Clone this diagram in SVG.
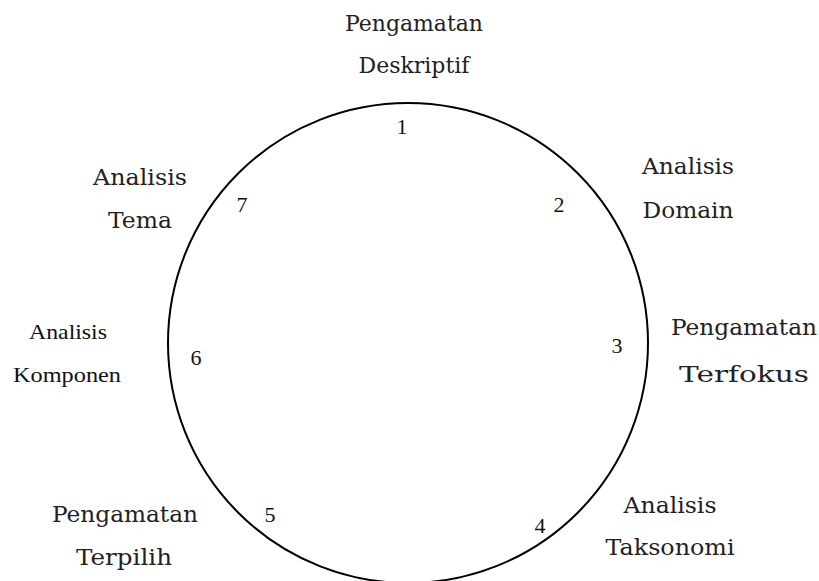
<svg xmlns="http://www.w3.org/2000/svg" width="819" height="581" viewBox="0 0 819 581">
<style>
.lb{font-family:"DejaVu Serif","Liberation Serif",serif;font-size:22.5px;fill:#222;text-anchor:middle}
.tm{font-family:"Liberation Serif",serif;font-size:21px;fill:#111;text-anchor:middle}
.num{font-family:"Liberation Serif",serif;font-size:22px;fill:#111;text-anchor:middle}
</style>
<rect width="819" height="581" fill="#fff"/>
<g id="connectors">
<circle cx="408" cy="343" r="240" fill="none" stroke="#000" stroke-width="2"/>
</g>
<g id="n1">
<text class="lb" x="414" y="31" textLength="138" lengthAdjust="spacingAndGlyphs">Pengamatan</text>
<text class="lb" x="414" y="73" textLength="111" lengthAdjust="spacingAndGlyphs">Deskriptif</text>
<text class="num" x="402" y="134">1</text>
</g>
<g id="n2">
<text class="lb" x="688" y="174" textLength="92" lengthAdjust="spacingAndGlyphs">Analisis</text>
<text class="lb" x="688" y="218" textLength="91" lengthAdjust="spacingAndGlyphs">Domain</text>
<text class="num" x="559" y="212">2</text>
</g>
<g id="n3">
<text class="lb" x="744" y="335" textLength="146" lengthAdjust="spacingAndGlyphs">Pengamatan</text>
<text class="lb" x="744" y="382" textLength="130" lengthAdjust="spacingAndGlyphs">Terfokus</text>
<text class="num" x="617" y="353">3</text>
</g>
<g id="n4">
<text class="lb" x="670" y="513" textLength="93" lengthAdjust="spacingAndGlyphs">Analisis</text>
<text class="lb" x="670" y="555" textLength="129" lengthAdjust="spacingAndGlyphs">Taksonomi</text>
<text class="num" x="540" y="533">4</text>
</g>
<g id="n5">
<text class="lb" x="125" y="522" textLength="146" lengthAdjust="spacingAndGlyphs">Pengamatan</text>
<text class="lb" x="124" y="565" textLength="96" lengthAdjust="spacingAndGlyphs">Terpilih</text>
<text class="num" x="270" y="522">5</text>
</g>
<g id="n6">
<text class="tm" x="68" y="339" textLength="78" lengthAdjust="spacingAndGlyphs">Analisis</text>
<text class="tm" x="67" y="382" textLength="108" lengthAdjust="spacingAndGlyphs">Komponen</text>
<text class="num" x="196" y="365">6</text>
</g>
<g id="n7">
<text class="lb" x="140" y="185" textLength="94" lengthAdjust="spacingAndGlyphs">Analisis</text>
<text class="lb" x="140" y="228" textLength="64" lengthAdjust="spacingAndGlyphs">Tema</text>
<text class="num" x="242" y="212">7</text>
</g>
</svg>
